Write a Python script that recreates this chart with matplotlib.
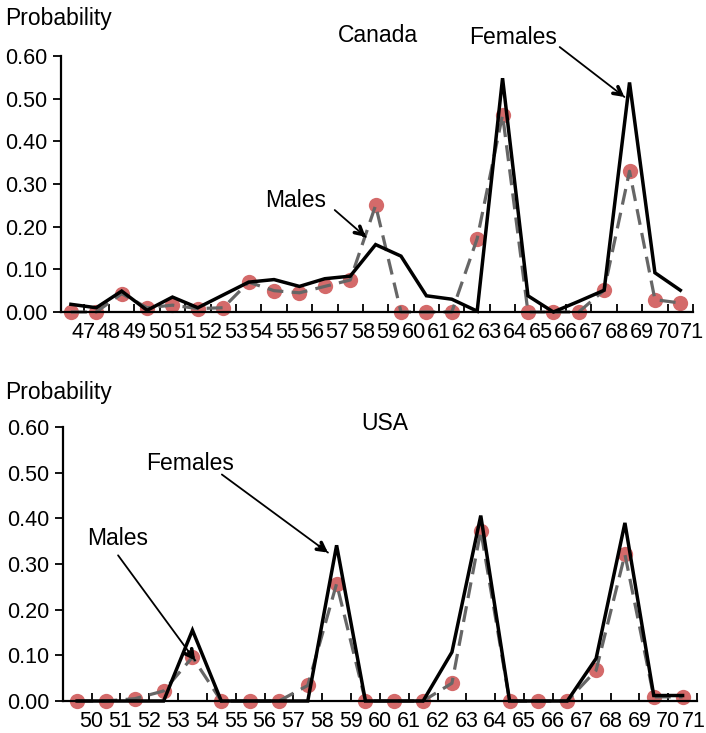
import matplotlib
matplotlib.use("Agg")
import matplotlib.pyplot as plt
import matplotlib.transforms as mtransforms
import numpy as np

plt.rcParams['font.family'] = ['Liberation Sans', 'DejaVu Sans']

# ---- data ----
canada_ages = [str(a) for a in range(47, 72)]
canada_males = [0.000, 0.000, 0.043, 0.010, 0.016, 0.008, 0.010, 0.070, 0.050, 0.045,
                0.060, 0.075, 0.250, 0.000, 0.000, 0.000, 0.172, 0.462, 0.000, 0.000,
                0.000, 0.051, 0.330, 0.029, 0.021]
canada_females = [0.018, 0.010, 0.049, 0.004, 0.035, 0.010, 0.040, 0.070, 0.076, 0.060,
                  0.078, 0.084, 0.158, 0.131, 0.038, 0.030, 0.002, 0.548, 0.038, 0.000,
                  0.025, 0.051, 0.538, 0.092, 0.051]

usa_ages = [str(a) for a in range(50, 72)]
usa_males = [0.000, 0.000, 0.005, 0.022, 0.096, 0.000, 0.000, 0.000, 0.034, 0.257,
             0.000, 0.000, 0.000, 0.039, 0.373, 0.000, 0.000, 0.000, 0.067, 0.321,
             0.009, 0.009]
usa_females = [0.000, 0.000, 0.000, 0.000, 0.155, 0.000, 0.000, 0.000, 0.000, 0.341,
               0.000, 0.000, 0.000, 0.107, 0.406, 0.000, 0.000, 0.000, 0.093, 0.390,
               0.012, 0.012]

yticks = [0.0, 0.1, 0.2, 0.3, 0.4, 0.5, 0.6]

W, H = 706, 733
fig = plt.figure(figsize=(W / 100, H / 100), dpi=100)

def px_axes(left, right, bottom, top):
    return fig.add_axes([left / W, 1 - bottom / H, (right - left) / W, (bottom - top) / H])

ax1 = px_axes(61, 693, 312, 56)
ax2 = px_axes(63, 697, 701, 427)

def draw(ax, labels, males, females, xlim, xfs, shift):
    x = np.arange(len(labels))
    ax.plot(x, males, 'o', color='#d05a5a', ms=11, alpha=0.9, mec='none',
            zorder=1, clip_on=False)
    l, = ax.plot(x, males, color='#666666', lw=2.3, zorder=2, clip_on=False)
    l.set_dashes((5, 2.6))
    ax.plot(x, females, color='black', lw=2.5, zorder=3, clip_on=False,
            solid_joinstyle='miter')
    ax.set_xlim(*xlim)
    ax.set_ylim(0, 0.6)
    for s in ['top', 'right']:
        ax.spines[s].set_visible(False)
    ax.spines['left'].set_bounds(0, 0.6)
    ax.spines['left'].set_linewidth(1.6)
    ax.spines['bottom'].set_linewidth(1.6)
    ax.set_yticks(yticks)
    ax.set_yticklabels(['%.2f' % v for v in yticks], fontsize=15.5)
    ax.set_xticks(x + 0.5)
    ax.set_xticklabels(labels, fontsize=xfs)
    ax.tick_params(axis='x', direction='in', length=6, width=1.3, pad=7)
    ax.tick_params(axis='y', direction='out', length=6, width=1.3, pad=4)
    ax.patch.set_alpha(0)
    # keep the last label inside the figure, as in the reference
    last = ax.get_xticklabels()[-1]
    last.set_transform(last.get_transform() +
                       mtransforms.ScaledTranslation(-shift / 100, 0, fig.dpi_scale_trans))

def arrow(ax, start, tip):
    ax.annotate('', xy=tip, xytext=start,
                arrowprops=dict(arrowstyle='-', lw=1.3, color='black',
                                shrinkA=0, shrinkB=0), annotation_clip=False)
    s = np.array(start); t = np.array(tip)
    mid = t - (t - s) * 0.08
    ax.annotate('', xy=tuple(t), xytext=tuple(mid),
                arrowprops=dict(arrowstyle='->,head_length=0.55,head_width=0.3',
                                lw=2.6, color='black', shrinkA=0, shrinkB=0),
                annotation_clip=False)

draw(ax1, canada_ages, canada_males, canada_females, (-0.39, 24.49), 15.6, 1)
draw(ax2, usa_ages, usa_males, usa_females, (-0.49, 21.48), 15.5, 3)

# top annotations
ax1.text(12.09, 0.648, 'Canada', fontsize=16.5, ha='center', va='center')
ax1.text(17.4, 0.643, 'Females', fontsize=16.5, ha='center', va='center')
arrow(ax1, (19.25, 0.621), (21.8, 0.504))
ax1.text(8.86, 0.262, 'Males', fontsize=16.5, ha='center', va='center')
arrow(ax1, (10.39, 0.239), (11.61, 0.176))

# bottom annotations
ax2.text(10.67, 0.608, 'USA', fontsize=16.5, ha='center', va='center')
ax2.text(3.92, 0.520, 'Females', fontsize=16.5, ha='center', va='center')
arrow(ax2, (5.02, 0.496), (8.70, 0.325))
ax2.text(1.42, 0.356, 'Males', fontsize=16.5, ha='center', va='center')
arrow(ax2, (1.42, 0.319), (4.09, 0.089))

fig.text(5 / W, 1 - 18 / H, 'Probability', fontsize=16.5, ha='left', va='center')
fig.text(5 / W, 1 - 393 / H, 'Probability', fontsize=16.5, ha='left', va='center')

fig.savefig('out.png', dpi=100)
